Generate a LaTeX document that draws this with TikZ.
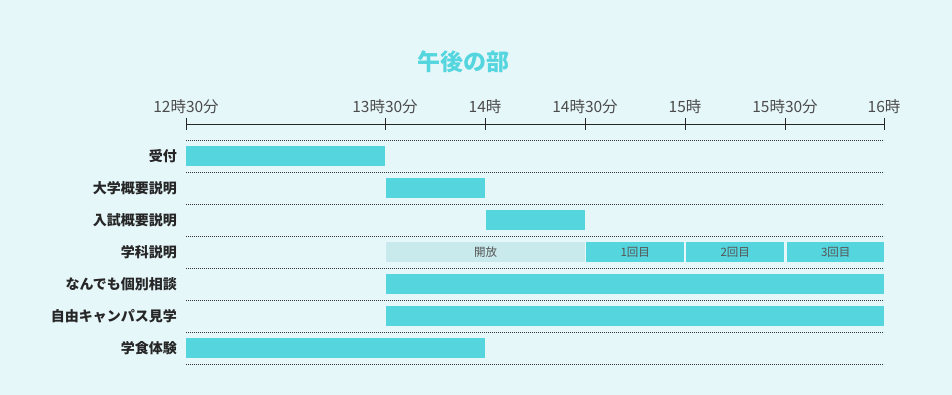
\documentclass[tikz,border=0pt]{standalone}
\usepackage{fontspec}
\setmainfont{Noto Sans CJK JP}
\usetikzlibrary{positioning}
\definecolor{bgcol}{HTML}{E6F7FA}
\definecolor{barcol}{HTML}{55D6DE}
\definecolor{opencol}{HTML}{C8EAEC}
\definecolor{txtgray}{HTML}{555555}

\begin{document}
\begin{tikzpicture}[x=1pt,y=-1pt,
    rowlabel/.style={anchor=east, inner sep=0, text=black!85, font=\fontsize{14}{14}\selectfont\bfseries},
    timelabel/.style={inner sep=0, text=black!70, font=\fontsize{15.5}{15.5}\selectfont},
    bar/.style={fill=barcol, minimum width=#1, minimum height=20pt, inner sep=0, anchor=west,
                text=txtgray, font=\fontsize{11.5}{11.5}\selectfont},
    dotline/.style={black!80, line width=0.7pt, dash pattern=on 0.8pt off 1.2pt}]
    % background and size
    \fill[bgcol] (0,0) rectangle (952,395);
    \useasboundingbox (0,0) rectangle (952,395);
    % title
    \node[text=barcol, font=\fontsize{23}{23}\selectfont\bfseries] (title) at (463,62) {午後の部};
    % time axis
    \coordinate (axs) at (186,124);
    \coordinate (axe) at (884,124);
    \draw[line width=0.9pt, black!85] (axs) -- (axe);
    \foreach \px/\lab [count=\k] in {186/12時30分, 385/13時30分, 485/14時, 585/14時30分, 685/15時, 785/15時30分, 884/16時} {
        \draw[line width=0.9pt, black!85] (\px,118) -- (\px,130);
        \node[timelabel] (t\k) at (\px,107) {\lab};
    }
    % rows and dotted lines
    \draw[dotline] (186,140) -- (884,140);
    \foreach \lab [count=\i] in {受付, 大学概要説明, 入試概要説明, 学科説明, なんでも個別相談, 自由キャンパス見学, 学食体験} {
        \node[rowlabel] (r\i) at (177,124+32*\i) {\lab};
        \draw[dotline] (186,140+32*\i) -- (884,140+32*\i);
    }
    % bars
    \node[bar=199pt] (b1) at (186,156) {};
    \node[bar=99pt] (b2) at (386,188) {};
    \node[bar=99pt] (b3) at (486,220) {};
    \node[bar=199pt, fill=opencol] (b4a) at (386,252) {開放};
    \node[bar=98pt] (b4b) at (586,252) {1回目};
    \node[bar=98pt] (b4c) at (686,252) {2回目};
    \node[bar=97pt] (b4d) at (787,252) {3回目};
    \node[bar=498pt] (b5) at (386,284) {};
    \node[bar=498pt] (b6) at (386,316) {};
    \node[bar=299pt] (b7) at (186,348) {};
\end{tikzpicture}
\end{document}
